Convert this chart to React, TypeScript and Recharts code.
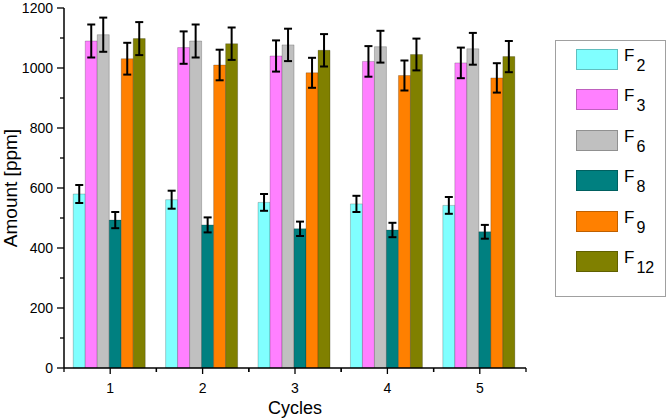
import React from "react";
import { BarChart, Bar, XAxis, YAxis, ErrorBar, Legend } from "recharts";

const cycles = ["1", "2", "3", "4", "5"];
const f2 = [580, 561, 552, 547, 542];
const f2Err = [30, 30, 28, 27, 28];
const f3 = [1090, 1068, 1040, 1022, 1017];
const f3Err = [55, 54, 52, 51, 51];
const f6 = [1111, 1090, 1077, 1071, 1064];
const f6Err = [57, 55, 54, 53, 53];
const f8 = [493, 477, 464, 460, 454];
const f8Err = [27, 25, 24, 24, 23];
const f9 = [1031, 1010, 984, 975, 967];
const f9Err = [53, 51, 50, 50, 49];
const f12 = [1098, 1081, 1059, 1045, 1038];
const f12Err = [55, 54, 54, 53, 52];
const yTicks = [0, 100, 200, 300, 400, 500, 600, 700, 800, 900, 1000, 1100, 1200];

const series = [
  { key: "F2", sub: "2", values: f2, errors: f2Err, color: "#80FFFF" },
  { key: "F3", sub: "3", values: f3, errors: f3Err, color: "#FF80FF" },
  { key: "F6", sub: "6", values: f6, errors: f6Err, color: "#C0C0C0" },
  { key: "F8", sub: "8", values: f8, errors: f8Err, color: "#008080" },
  { key: "F9", sub: "9", values: f9, errors: f9Err, color: "#FF8000" },
  { key: "F12", sub: "12", values: f12, errors: f12Err, color: "#808000" },
];

const data = cycles.map((c, i) => {
  const row: Record<string, any> = { cycle: c };
  series.forEach(s => {
    row[s.key] = s.values[i];
    row[s.key + "err"] = s.errors[i];
  });
  return row;
});

const FONT = '"Liberation Sans", Arial, sans-serif';

// y ticks: labels every 200, short minor ticks in between
const YTick = (props: any) => {
  const { x, y, payload } = props;
  const major = payload.value % 200 === 0;
  return (
    <g>
      <line x1={x} x2={x - (major ? 7 : 4)} y1={y} y2={y} stroke="#000" strokeWidth={1.3} />
      {major && (
        <text x={x - 11} y={y} dy="0.35em" textAnchor="end" fontSize={14} fontFamily={FONT} fill="#000">
          {payload.value}
        </text>
      )}
    </g>
  );
};

// x ticks: major at category centre, minor at band edges
const XTick = (props: any) => {
  const { x, y, payload } = props;
  const half = payload.offset || 0;
  return (
    <g>
      <line x1={x} x2={x} y1={y} y2={y + 6} stroke="#000" strokeWidth={1.3} />
      <line x1={x - half} x2={x - half} y1={y} y2={y + 4} stroke="#000" strokeWidth={1.3} />
      <line x1={x + half} x2={x + half} y1={y} y2={y + 4} stroke="#000" strokeWidth={1.3} />
      <text x={x} y={y + 25} textAnchor="middle" fontSize={14} fontFamily={FONT} fill="#000">
        {payload.value}
      </text>
    </g>
  );
};

const renderLegend = () => (
  <div
    style={{
      position: "absolute", left: 555, top: 40, width: 111, height: 257,
      border: "1px solid #a0a0a0", background: "#fff", boxSizing: "border-box",
      fontFamily: FONT,
    }}
  >
    {series.map((s, i) => (
      <div key={s.key} style={{ position: "absolute", left: 20, top: 8 + i * 40.4, height: 22, display: "flex", alignItems: "flex-start" }}>
        <div style={{ width: 42, height: 21, background: s.color, border: "1px solid rgba(0,0,0,0.25)", boxSizing: "border-box" }} />
        <span style={{ marginLeft: 6, fontSize: 17, lineHeight: "17px", marginTop: -2, color: "#000" }}>F</span>
        <span style={{ marginLeft: 2, fontSize: 16, lineHeight: "16px", marginTop: 9, color: "#000" }}>{s.sub}</span>
      </div>
    ))}
  </div>
);

export default function App() {
  return (
    <div style={{ position: "absolute", left: 0, top: 0, background: "#fff" }}>
      <BarChart
        width={668}
        height={420}
        data={data}
        margin={{ top: 8, right: 142, bottom: 0, left: 0 }}
        barCategoryGap="10%"
        barGap={0}
      >
        <XAxis
          dataKey="cycle"
          height={52}
          tickLine={false}
          tickSize={0}
          tickMargin={0}
          tick={<XTick />}
          axisLine={{ stroke: "#000", strokeWidth: 1.5 }}
          label={{ value: "Cycles", position: "insideBottom", offset: 6, fontSize: 18, fontFamily: FONT, fill: "#000" }}
        />
        <YAxis
          width={64}
          domain={[0, 1200]}
          ticks={yTicks}
          interval={0}
          tickLine={false}
          tickSize={0}
          tickMargin={0}
          tick={<YTick />}
          axisLine={{ stroke: "#000", strokeWidth: 1.5 }}
          label={{
            value: "Amount [ppm]", angle: -90, position: "insideLeft", offset: 10,
            fontSize: 19, fontFamily: FONT, fill: "#000", style: { textAnchor: "middle" },
          }}
        />
        <Legend verticalAlign="top" content={renderLegend} wrapperStyle={{ left: 0, top: 0, width: 0, height: 0 }} />
        {series.map(s => (
          <Bar
            key={s.key}
            dataKey={s.key}
            fill={s.color}
            stroke="rgba(0,0,0,0.3)"
            strokeWidth={0.7}
            isAnimationActive={false}
          >
            <ErrorBar dataKey={s.key + "err"} width={4} stroke="#000" strokeWidth={2} direction="y" />
          </Bar>
        ))}
      </BarChart>
    </div>
  );
}
